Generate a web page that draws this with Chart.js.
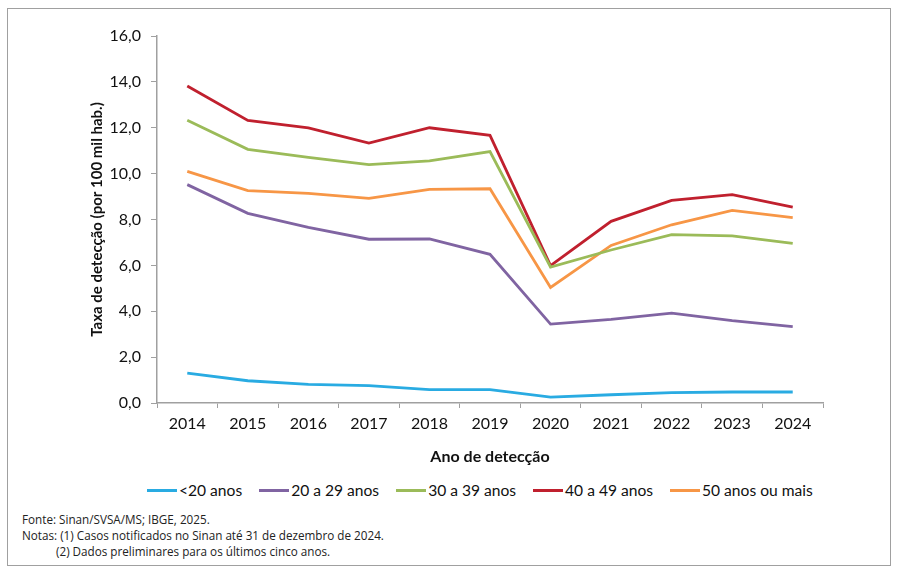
<!DOCTYPE html>
<html lang="pt-BR">
<head>
<meta charset="utf-8">
<title>Taxa de detecção por faixa etária</title>
<script src="https://cdn.jsdelivr.net/npm/chart.js@4.4.1/dist/chart.umd.min.js"></script>
<style>
    html, body {
        margin: 0;
        padding: 0;
        background: #ffffff;
    }
    #page {
        position: relative;
        width: 901px;
        height: 582px;
        overflow: hidden;
    }
    #frame {
        position: absolute;
        left: 7px;
        top: 8px;
        width: 884px;
        height: 558px;
        border: 1.5px solid #a0a0a0;
        box-sizing: border-box;
    }
    #chart-box {
        position: absolute;
        left: 0;
        top: 0;
        width: 901px;
        height: 480px;
    }
    #legend {
        position: absolute;
        left: 147px;
        top: 481px;
        display: flex;
        font-family: Lato, sans-serif;
        font-size: 15.6px;
        color: #111111;
        white-space: nowrap;
    }
    #legend .item {
        display: flex;
        align-items: center;
        margin-right: 17px;
    }
    #legend .swatch {
        width: 30px;
        height: 3px;
        margin-right: 2px;
    }
    #notes {
        position: absolute;
        left: 22px;
        top: 511px;
        font-family: "Open Sans", sans-serif;
        font-size: 11.7px;
        line-height: 16px;
        color: #222222;
    }
    #notes .indent {
        padding-left: 34px;
    }
</style>
</head>
<body>
<div id="page">
    <div id="frame"></div>
    <div id="chart-box"><canvas id="chartRates" width="901" height="480"></canvas></div>
    <div id="legend"></div>
    <div id="notes">
        <div>Fonte: Sinan/SVSA/MS; IBGE, 2025.</div>
        <div>Notas: (1) Casos notificados no Sinan até 31 de dezembro de 2024.</div>
        <div class="indent">(2) Dados preliminares para os últimos cinco anos.</div>
    </div>
</div>
<script>
const years = ["2014", "2015", "2016", "2017", "2018", "2019", "2020", "2021", "2022", "2023", "2024"];

const seriesNames = ["<20 anos", "20 a 29 anos", "30 a 39 anos", "40 a 49 anos", "50 anos ou mais"];

const under20 = [1.30, 0.97, 0.81, 0.76, 0.58, 0.58, 0.26, 0.36, 0.45, 0.48, 0.48];
const from20to29 = [9.52, 8.27, 7.66, 7.14, 7.15, 6.48, 3.44, 3.65, 3.92, 3.59, 3.33];
const from30to39 = [12.33, 11.06, 10.71, 10.39, 10.56, 10.96, 5.93, 6.67, 7.34, 7.29, 6.96];
const from40to49 = [13.82, 12.32, 11.99, 11.33, 12.00, 11.67, 5.99, 7.92, 8.83, 9.08, 8.54];
const over50 = [10.10, 9.26, 9.14, 8.92, 9.31, 9.34, 5.04, 6.87, 7.77, 8.40, 8.08];

const yTicks = [0, 2, 4, 6, 8, 10, 12, 14, 16];

const seriesColors = ["#29abe2", "#8064a2", "#9bbb59", "#c0202e", "#f79646"];
const axisColor = "#a0a0a0";

const seriesValues = [under20, from20to29, from30to39, from40to49, over50];

const datasets = seriesNames.map((name, index) => ({
    label: name,
    data: seriesValues[index],
    borderColor: seriesColors[index],
    backgroundColor: seriesColors[index],
    borderWidth: 2.8,
    pointRadius: 0,
    tension: 0,
}));

const chart = new Chart(document.getElementById("chartRates"), {
    type: "line",
    data: {
        labels: years,
        datasets: datasets,
    },
    options: {
        responsive: false,
        animation: false,
        layout: {
            padding: {left: 86, right: 78, top: 36, bottom: 9},
        },
        plugins: {
            legend: {display: false},
            tooltip: {enabled: false},
        },
        scales: {
            x: {
                offset: true,
                afterFit: scale => {
                    scale.height = 68;
                },
                grid: {
                    offset: true,
                    drawOnChartArea: false,
                    tickLength: 5,
                    color: axisColor,
                },
                border: {color: axisColor, width: 1.5},
                ticks: {
                    color: "#111111",
                    padding: 6,
                    maxRotation: 0,
                    font: {family: "Lato", size: 16},
                },
                title: {
                    display: true,
                    text: "Ano de detecção",
                    color: "#111111",
                    padding: {top: 4, bottom: 5},
                    font: {family: "Lato", size: 16, weight: "bold"},
                },
            },
            y: {
                min: 0,
                max: 16,
                afterFit: scale => {
                    scale.width = 71;
                },
                afterBuildTicks: scale => {
                    scale.ticks = yTicks.map(value => ({value}));
                },
                grid: {
                    drawOnChartArea: false,
                    tickLength: 6,
                    color: axisColor,
                },
                border: {color: axisColor, width: 1.5},
                ticks: {
                    color: "#111111",
                    padding: 10,
                    font: {family: "Lato", size: 16},
                    callback: value => value.toFixed(1).replace(".", ","),
                },
                title: {
                    display: true,
                    text: "Taxa de detecção (por 100 mil hab.)",
                    color: "#111111",
                    padding: {top: 2, bottom: 2},
                    font: {family: "Lato", size: 15, weight: "bold"},
                },
            },
        },
    },
});

// legenda em HTML, montada a partir dos próprios datasets
const legendBox = document.getElementById("legend");
chart.data.datasets.forEach(dataset => {
    const item = document.createElement("div");
    item.className = "item";
    const swatch = document.createElement("span");
    swatch.className = "swatch";
    swatch.style.background = dataset.borderColor;
    const text = document.createElement("span");
    text.innerText = dataset.label;
    item.appendChild(swatch);
    item.appendChild(text);
    legendBox.appendChild(item);
});
</script>
</body>
</html>
